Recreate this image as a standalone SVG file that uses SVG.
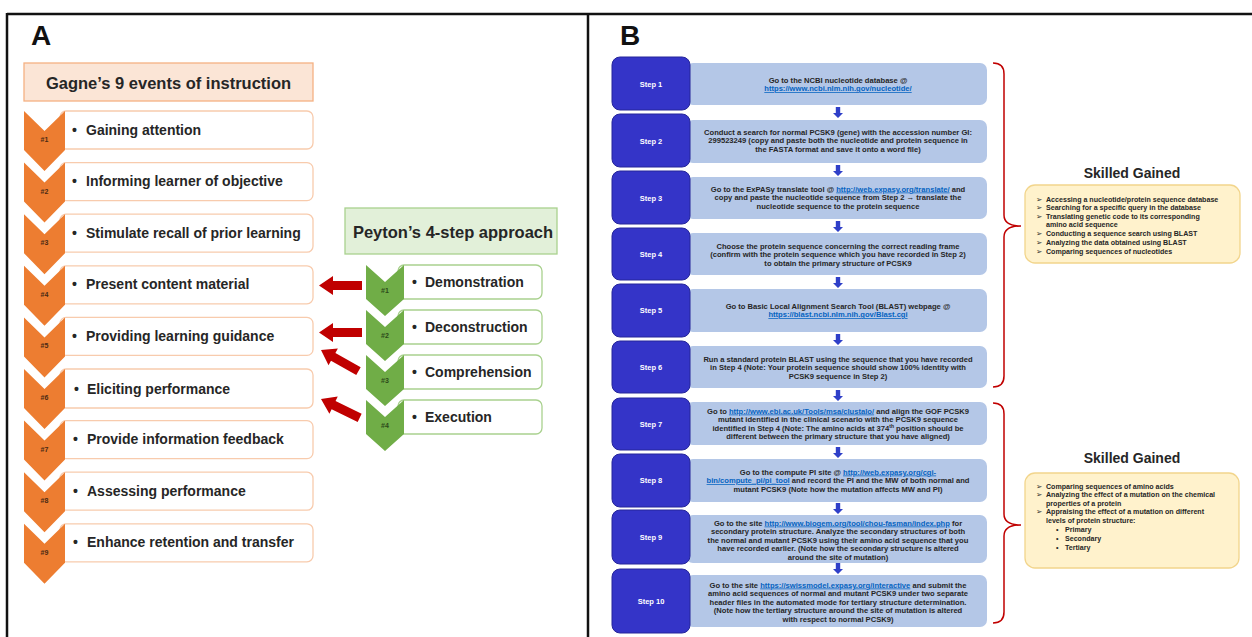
<svg xmlns="http://www.w3.org/2000/svg" width="1252" height="637" viewBox="0 0 1252 637">
<style>
.frame{stroke:#111;stroke-width:2.5;fill:none}
.panel{font-family:"Liberation Sans",Arial,sans-serif;font-weight:bold;font-size:28px;fill:#111}
.ttl{font-family:"Liberation Sans",Arial,sans-serif;font-weight:bold;font-size:16.5px;fill:#262626;text-anchor:middle}
.itm{font-family:"Liberation Sans",Arial,sans-serif;font-weight:bold;font-size:14px;fill:#262626}
.num{font-family:"Liberation Sans",Arial,sans-serif;font-weight:bold;font-size:7px;fill:#4a2a14;text-anchor:middle}
.numg{font-family:"Liberation Sans",Arial,sans-serif;font-weight:bold;font-size:7px;fill:#2c4a1a;text-anchor:middle}
.och{fill:#ed7d31}
.gch{fill:#70ad47}
.obox{fill:#fff;stroke:#f8cbad;stroke-width:1.3}
.gbox{fill:#fff;stroke:#a9d18e;stroke-width:1.3}
.redarr{fill:#c00000}
.stepb{fill:#3434c8;stroke:#25259a;stroke-width:1}
.stepl{fill:#b4c7e7}
.stept{font-family:"Liberation Sans",Arial,sans-serif;font-weight:bold;font-size:7.5px;fill:#fff;text-anchor:middle}
.st{font-family:"Liberation Sans",Arial,sans-serif;font-weight:bold;font-size:7.6px;fill:#262626;text-anchor:middle}
.lk{fill:#0563c1;text-decoration:underline}
.darr{fill:#2f3fc8}
.brace{fill:none;stroke:#c00000;stroke-width:1.5}
.sk{font-family:"Liberation Sans",Arial,sans-serif;font-weight:bold;font-size:14px;fill:#262626;text-anchor:middle}
.skbox{fill:#fff2cc;stroke:#f2d58c;stroke-width:1.3}
.skt{font-family:"Liberation Sans",Arial,sans-serif;font-weight:bold;font-size:7.1px;fill:#262626}
.bul{font-family:"DejaVu Sans",sans-serif;font-size:7.5px;fill:#262626}
</style>
<defs>
<path id="och" d="M0 0 L20.5 20 L41 0 L41 39 L20.5 60 L0 39 Z"/>
<path id="gch" d="M0 0 L19 17 L38 0 L38 34 L19 51 L0 34 Z"/>
<polygon id="rarr" points="0,0 14,-9.5 14,-4.5 43,-4.5 43,4.5 14,4.5 14,9.5"/>
<polygon id="darr" points="-2.2,0 2.2,0 2.2,6 5,6 0,11 -5,6 -2.2,6"/>
</defs>
<rect width="1252" height="637" fill="#fff"/>
<g id="frame">
<line class="frame" x1="7" y1="14" x2="1252" y2="14"/>
<line class="frame" x1="7" y1="13" x2="7" y2="637"/>
<line class="frame" x1="588" y1="13" x2="588" y2="637"/>
</g>
<text class="panel" x="31" y="45">A</text>
<text class="panel" x="620" y="45">B</text>

<g id="gagne-title">
<rect x="24" y="63" width="289" height="38" fill="#fbe5d6" stroke="#f4b183" stroke-width="1.3"/>
<text class="ttl" x="168.5" y="89">Gagne’s 9 events of instruction</text>
</g>
<g id="gagne-1"><rect class="obox" x="60" y="111" width="253" height="38" rx="6"/><use href="#och" class="och" x="24" y="111"/><text class="num" x="44.5" y="142">#1</text><text class="itm" x="72" y="134.5">•</text><text class="itm" x="86" y="134.5">Gaining attention</text></g>
<g id="gagne-2"><rect class="obox" x="60" y="162.6" width="253" height="38" rx="6"/><use href="#och" class="och" x="24" y="162.6"/><text class="num" x="44.5" y="193.6">#2</text><text class="itm" x="72" y="186.1">•</text><text class="itm" x="86" y="186.1">Informing learner of objective</text></g>
<g id="gagne-3"><rect class="obox" x="60" y="214.2" width="253" height="38" rx="6"/><use href="#och" class="och" x="24" y="214.2"/><text class="num" x="44.5" y="245.2">#3</text><text class="itm" x="72" y="237.7">•</text><text class="itm" x="86" y="237.7">Stimulate recall of prior learning</text></g>
<g id="gagne-4"><rect class="obox" x="60" y="265.8" width="253" height="38" rx="6"/><use href="#och" class="och" x="24" y="265.8"/><text class="num" x="44.5" y="296.8">#4</text><text class="itm" x="72" y="289.3">•</text><text class="itm" x="86" y="289.3">Present content material</text></g>
<g id="gagne-5"><rect class="obox" x="60" y="317.4" width="253" height="38" rx="6"/><use href="#och" class="och" x="24" y="317.4"/><text class="num" x="44.5" y="348.4">#5</text><text class="itm" x="72" y="340.9">•</text><text class="itm" x="86" y="340.9">Providing learning guidance</text></g>
<g id="gagne-6"><rect class="obox" x="60" y="369" width="253" height="39" rx="6"/><use href="#och" class="och" x="24" y="369"/><text class="num" x="44.5" y="400">#6</text><text class="itm" x="74" y="393.5">•</text><text class="itm" x="87" y="393.5">Eliciting performance</text></g>
<g id="gagne-7"><rect class="obox" x="60" y="420.6" width="253" height="38" rx="6"/><use href="#och" class="och" x="24" y="420.6"/><text class="num" x="44.5" y="451.6">#7</text><text class="itm" x="73" y="444.1">•</text><text class="itm" x="87" y="444.1">Provide information feedback</text></g>
<g id="gagne-8"><rect class="obox" x="60" y="472.2" width="253" height="38" rx="6"/><use href="#och" class="och" x="24" y="472.2"/><text class="num" x="44.5" y="503.2">#8</text><text class="itm" x="73" y="495.7">•</text><text class="itm" x="87" y="495.7">Assessing performance</text></g>
<g id="gagne-9"><rect class="obox" x="60" y="523.8" width="253" height="38" rx="6"/><use href="#och" class="och" x="24" y="523.8"/><text class="num" x="44.5" y="554.8">#9</text><text class="itm" x="73" y="547.3">•</text><text class="itm" x="87" y="547.3">Enhance retention and transfer</text></g>

<g id="peyton-title">
<rect x="345" y="208" width="212" height="46" fill="#e2f0d9" stroke="#a9d18e" stroke-width="1.3"/>
<text class="ttl" x="453" y="238">Peyton’s 4-step approach</text>
</g>
<g id="peyton-1"><rect class="gbox" x="398" y="265" width="144" height="34" rx="6"/><use href="#gch" class="gch" x="366" y="265"/><text class="numg" x="385" y="293">#1</text><text class="itm" x="412" y="286.5">•</text><text class="itm" x="425" y="286.5">Demonstration</text></g>
<g id="peyton-2"><rect class="gbox" x="398" y="310" width="144" height="34" rx="6"/><use href="#gch" class="gch" x="366" y="310"/><text class="numg" x="385" y="338">#2</text><text class="itm" x="412" y="331.5">•</text><text class="itm" x="425" y="331.5">Deconstruction</text></g>
<g id="peyton-3"><rect class="gbox" x="398" y="355" width="144" height="34" rx="6"/><use href="#gch" class="gch" x="366" y="355"/><text class="numg" x="385" y="383">#3</text><text class="itm" x="412" y="376.5">•</text><text class="itm" x="425" y="376.5">Comprehension</text></g>
<g id="peyton-4"><rect class="gbox" x="398" y="400" width="144" height="34" rx="6"/><use href="#gch" class="gch" x="366" y="400"/><text class="numg" x="385" y="428">#4</text><text class="itm" x="412" y="421.5">•</text><text class="itm" x="425" y="421.5">Execution</text></g>

<g id="connectors">
<use href="#rarr" class="redarr" transform="translate(319,285.5)"/>
<use href="#rarr" class="redarr" transform="translate(319,332.5)"/>
<use href="#rarr" class="redarr" transform="translate(321,350) rotate(29.4)"/>
<use href="#rarr" class="redarr" transform="translate(321,399) rotate(26)"/>
<use href="#darr" class="darr" x="838" y="107"/>
<use href="#darr" class="darr" x="838" y="165"/>
<use href="#darr" class="darr" x="838" y="221"/>
<use href="#darr" class="darr" x="838" y="277"/>
<use href="#darr" class="darr" x="838" y="334"/>
<use href="#darr" class="darr" x="838" y="390"/>
<use href="#darr" class="darr" x="838" y="447"/>
<use href="#darr" class="darr" x="838" y="503"/>
<use href="#darr" class="darr" x="838" y="563"/>
<path class="brace" d="M993 63 Q1004 63 1004 74 L1004 215 Q1004 226 1021 226 Q1004 226 1004 237 L1004 376 Q1004 387 993 387"/>
<path class="brace" d="M993 403 Q1004 403 1004 414 L1004 514 Q1004 525 1021 525 Q1004 525 1004 536 L1004 612 Q1004 623 993 623"/>
</g>

<g id="step-1"><rect class="stepl" x="686" y="63" width="301" height="42" rx="7"/><rect class="stepb" x="612" y="57" width="78" height="53" rx="8"/><text class="stept" x="651" y="87">Step 1</text>
<text class="st" x="838" y="82.5">Go to the NCBI nucleotide database @</text>
<text class="st" x="838" y="91"><tspan class="lk">https://www.ncbi.nlm.nih.gov/nucleotide/</tspan></text></g>
<g id="step-2"><rect class="stepl" x="686" y="120" width="301" height="43" rx="7"/><rect class="stepb" x="612" y="114" width="78" height="53" rx="8"/><text class="st" x="838" y="134.5">Conduct a search for normal PCSK9 (gene) with the accession number GI:</text><text class="stept" x="651" y="144">Step 2</text>
<text class="st" x="838" y="143">299523249 (copy and paste both the nucleotide and protein sequence in</text>
<text class="st" x="838" y="151.5">the FASTA format and save it onto a word file)</text></g>
<g id="step-3"><rect class="stepl" x="686" y="177" width="301" height="42" rx="7"/><rect class="stepb" x="612" y="171" width="78" height="53" rx="8"/><text class="stept" x="651" y="201">Step 3</text>
<text class="st" x="838" y="191.5">Go to the ExPASy  translate tool @ <tspan class="lk">http://web.expasy.org/translate/</tspan> and</text>
<text class="st" x="838" y="200">copy and paste the nucleotide sequence from Step 2 → translate the</text>
<text class="st" x="838" y="208.5">nucleotide sequence to the protein sequence</text></g>
<g id="step-4"><rect class="stepl" x="686" y="233" width="301" height="42" rx="7"/><rect class="stepb" x="612" y="228" width="78" height="52" rx="8"/><text class="stept" x="651" y="257">Step 4</text>
<text class="st" x="838" y="248.5">Choose the protein sequence concerning the correct reading frame</text>
<text class="st" x="838" y="257">(confirm with the protein sequence which you have recorded in Step 2)</text>
<text class="st" x="838" y="265.5">to obtain the primary structure of PCSK9</text></g>
<g id="step-5"><rect class="stepl" x="686" y="289" width="301" height="43" rx="7"/><rect class="stepb" x="612" y="284" width="78" height="53" rx="8"/><text class="stept" x="651" y="313">Step 5</text>
<text class="st" x="838" y="308.5">Go to Basic Local Alignment Search Tool (BLAST) webpage @</text>
<text class="st" x="838" y="317"><tspan class="lk">https://blast.ncbi.nlm.nih.gov/Blast.cgi</tspan></text></g>
<g id="step-6"><rect class="stepl" x="686" y="346" width="301" height="42" rx="7"/><rect class="stepb" x="612" y="341" width="78" height="52" rx="8"/><text class="stept" x="651" y="370">Step 6</text>
<text class="st" x="838" y="361.5">Run a standard protein BLAST  using the sequence that you have recorded</text>
<text class="st" x="838" y="370">in Step 4 (Note: Your protein sequence should show  100% identity with</text>
<text class="st" x="838" y="378.5">PCSK9 sequence in Step 2)</text></g>
<g id="step-7"><rect class="stepl" x="686" y="402" width="301" height="43" rx="7"/><rect class="stepb" x="612" y="398" width="78" height="52" rx="8"/><text class="stept" x="651" y="427">Step 7</text>
<text class="st" x="838" y="413.5">Go to <tspan class="lk">http://www.ebi.ac.uk/Tools/msa/clustalo/</tspan> and align the GOF  PCSK9</text>
<text class="st" x="838" y="422">mutant identified in the clinical scenario with the PCSK9 sequence</text>
<text class="st" x="838" y="430.5">identified in Step 4 (Note: The amino acids at 374<tspan dy="-2.5" font-size="5">th</tspan><tspan dy="2.5"> position should be</tspan></text>
<text class="st" x="838" y="439">different between the primary structure that you have aligned)</text></g>
<g id="step-8"><rect class="stepl" x="686" y="459" width="301" height="43" rx="7"/><rect class="stepb" x="612" y="454" width="78" height="53" rx="8"/><text class="stept" x="651" y="483">Step 8</text>
<text class="st" x="838" y="474.5">Go to the compute PI site @ <tspan class="lk">http://web.expasy.org/cgi-</tspan></text>
<text class="st" x="838" y="483"><tspan class="lk">bin/compute_pi/pi_tool</tspan> and record the PI and the MW of both normal and</text>
<text class="st" x="838" y="491.5">mutant PCSK9 (Note how the mutation affects MW and PI)</text></g>
<g id="step-9"><rect class="stepl" x="686" y="515" width="301" height="48" rx="7"/><rect class="stepb" x="612" y="510" width="78" height="54" rx="8"/><text class="stept" x="651" y="540">Step 9</text>
<text class="st" x="838" y="525.5">Go to the site <tspan class="lk">http://www.biogem.org/tool/chou-fasman/index.php</tspan> for</text>
<text class="st" x="838" y="534">secondary protein structure. Analyze the secondary structures of both</text>
<text class="st" x="838" y="542.5">the normal and mutant PCSK9 using their amino acid sequence that you</text>
<text class="st" x="838" y="551">have recorded earlier. (Note how the secondary structure is altered</text>
<text class="st" x="838" y="559.5">around the site of mutation)</text></g>
<g id="step-10"><rect class="stepl" x="686" y="575" width="301" height="52" rx="7"/><rect class="stepb" x="612" y="569" width="78" height="64" rx="8"/><text class="stept" x="651" y="604">Step 10</text>
<text class="st" x="838" y="587.5">Go to the site <tspan class="lk">https://swissmodel.expasy.org/interactive</tspan> and submit the</text>
<text class="st" x="838" y="596">amino acid sequences of normal and mutant PCSK9 under two separate</text>
<text class="st" x="838" y="604.5">header files in the automated mode for tertiary structure determination.</text>
<text class="st" x="838" y="613">(Note how the tertiary structure around the site of mutation is altered</text>
<text class="st" x="838" y="621.5">with respect to normal PCSK9)</text></g>

<g id="skills-1">
<text class="sk" x="1132" y="178">Skilled Gained</text>
<rect class="skbox" x="1025" y="185" width="215" height="78" rx="10"/>
<text class="bul" x="1036" y="201.5">➢</text><text class="skt" x="1046" y="201.5">Accessing a nucleotide/protein sequence database</text>
<text class="bul" x="1036" y="210">➢</text><text class="skt" x="1046" y="210">Searching for a specific query in the database</text>
<text class="bul" x="1036" y="218.5">➢</text><text class="skt" x="1046" y="218.5">Translating genetic code to its corresponding</text>
<text class="skt" x="1046" y="227">amino acid sequence</text>
<text class="bul" x="1036" y="236">➢</text><text class="skt" x="1046" y="236">Conducting a sequence search using BLAST</text>
<text class="bul" x="1036" y="245">➢</text><text class="skt" x="1046" y="245">Analyzing the data obtained using BLAST</text>
<text class="bul" x="1036" y="254">➢</text><text class="skt" x="1046" y="254">Comparing sequences of nucleotides</text>
</g>
<g id="skills-2">
<text class="sk" x="1132" y="463">Skilled Gained</text>
<rect class="skbox" x="1025" y="473" width="214" height="95" rx="10"/>
<text class="bul" x="1036" y="488.5">➢</text><text class="skt" x="1046" y="488.5">Comparing sequences of amino acids</text>
<text class="bul" x="1036" y="497">➢</text><text class="skt" x="1046" y="497">Analyzing the effect of a mutation on the chemical</text>
<text class="skt" x="1046" y="505.5">properties of a protein</text>
<text class="bul" x="1036" y="514">➢</text><text class="skt" x="1046" y="514">Appraising the effect of a mutation on different</text>
<text class="skt" x="1046" y="522.5">levels of protein structure:</text>
<text class="skt" x="1056" y="532">•</text><text class="skt" x="1065" y="532">Primary</text>
<text class="skt" x="1056" y="541">•</text><text class="skt" x="1065" y="541">Secondary</text>
<text class="skt" x="1056" y="550">•</text><text class="skt" x="1065" y="550">Tertiary</text>
</g>
</svg>
